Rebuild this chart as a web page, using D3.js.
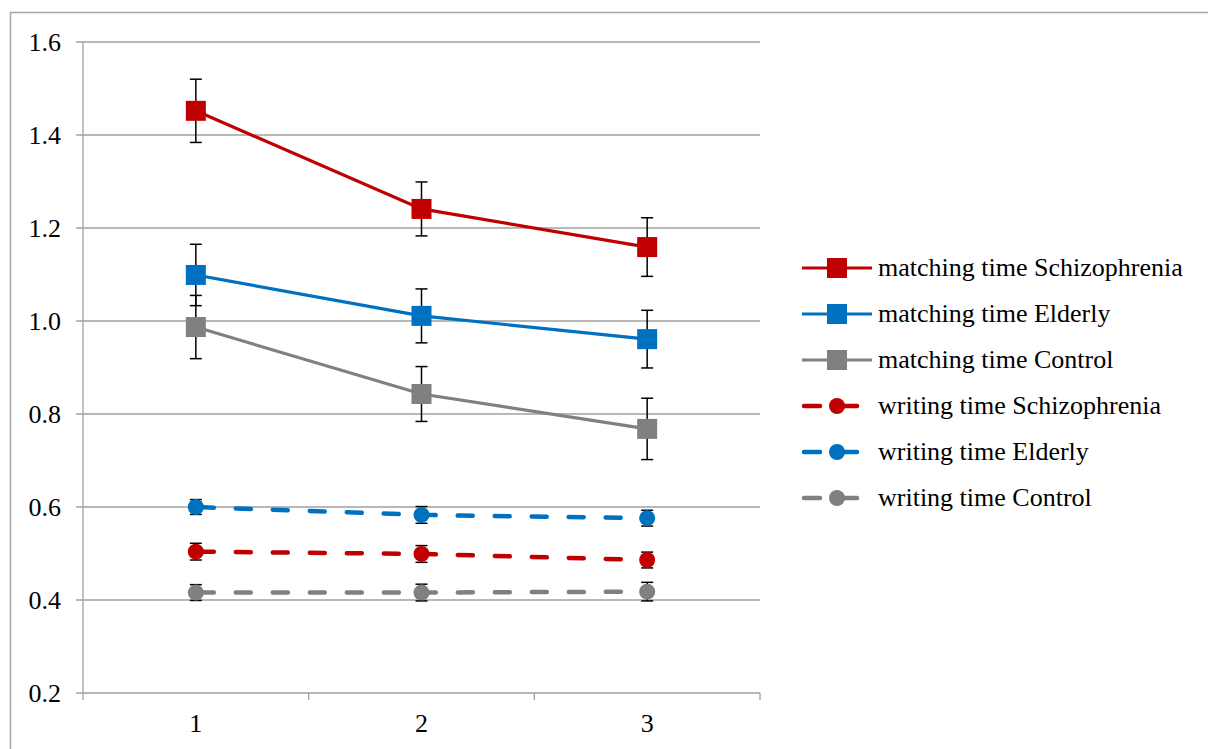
<!DOCTYPE html>
<html>
<head>
<meta charset="utf-8">
<script src="https://cdn.jsdelivr.net/npm/d3@7"></script>
<style>
  html, body { margin: 0; padding: 0; background: #fff; }
  svg { display: block; }
  svg text { font-family: "Liberation Serif", "DejaVu Serif", serif; fill: #000; }
</style>
</head>
<body>
<svg id="chart" width="1208" height="749"></svg>
<script>
// Sessions on the x axis
const sessions = [1, 2, 3];
const yTicks = [0.2, 0.4, 0.6, 0.8, 1.0, 1.2, 1.4, 1.6];

// Mean times per session and their error bars
const matchingSchizophrenia = [1.452, 1.241, 1.159];
const matchingSchizophreniaErr = [0.068, 0.058, 0.063];
const matchingElderly = [1.099, 1.011, 0.961];
const matchingElderlyErr = [0.066, 0.058, 0.062];
const matchingControl = [0.987, 0.843, 0.768];
const matchingControlErr = [0.068, 0.059, 0.066];
const writingSchizophrenia = [0.504, 0.499, 0.486];
const writingSchizophreniaErr = [0.018, 0.018, 0.017];
const writingElderly = [0.600, 0.583, 0.576];
const writingElderlyErr = [0.016, 0.018, 0.017];
const writingControl = [0.416, 0.416, 0.418];
const writingControlErr = [0.017, 0.018, 0.020];

const seriesNames = [
  "matching time Schizophrenia", "matching time Elderly", "matching time Control",
  "writing time Schizophrenia", "writing time Elderly", "writing time Control"
];

const RED = "#C00000", BLUE = "#0070C0", GRAY = "#808080";
const FONT = "'Liberation Serif', 'DejaVu Serif', serif";
const FONT_SIZE = 26;

const series = [
  { name: seriesNames[0], values: matchingSchizophrenia, err: matchingSchizophreniaErr, color: RED,  kind: "square" },
  { name: seriesNames[1], values: matchingElderly,       err: matchingElderlyErr,       color: BLUE, kind: "square" },
  { name: seriesNames[2], values: matchingControl,       err: matchingControlErr,       color: GRAY, kind: "square" },
  { name: seriesNames[3], values: writingSchizophrenia,  err: writingSchizophreniaErr,  color: RED,  kind: "circle" },
  { name: seriesNames[4], values: writingElderly,        err: writingElderlyErr,        color: BLUE, kind: "circle" },
  { name: seriesNames[5], values: writingControl,        err: writingControlErr,        color: GRAY, kind: "circle" }
];

const svg = d3.select("#chart");

// Outer chart frame (runs past the right and bottom edges)
svg.append("rect")
  .attr("x", 10.5).attr("y", 12.5)
  .attr("width", 1300).attr("height", 800)
  .attr("fill", "none").attr("stroke", "#a6a6a6").attr("stroke-width", 1.5);

const plot = { left: 83, right: 760, top: 42, bottom: 693 };

const x = d3.scaleBand().domain(sessions).range([plot.left, plot.right]);
const cx = d => x(d) + x.bandwidth() / 2;
const y = d3.scaleLinear().domain([0.2, 1.6]).range([plot.bottom, plot.top]);

// Horizontal gridlines with small outer ticks
const grid = svg.append("g");
grid.selectAll("line")
  .data(yTicks)
  .join("line")
  .attr("x1", plot.left - 7).attr("x2", plot.right)
  .attr("y1", d => y(d)).attr("y2", d => y(d))
  .attr("stroke", "#a0a0a0").attr("stroke-width", 1.3);

// Vertical axis line
svg.append("line")
  .attr("x1", plot.left).attr("x2", plot.left)
  .attr("y1", plot.top).attr("y2", plot.bottom)
  .attr("stroke", "#a0a0a0").attr("stroke-width", 1.3);

// Y tick labels
svg.append("g").selectAll("text")
  .data(yTicks)
  .join("text")
  .attr("x", 61).attr("y", d => y(d) + 9)
  .attr("text-anchor", "end")
  .attr("font-family", FONT)
  .attr("font-size", FONT_SIZE)
  .text(d => d3.format(".1f")(d));

// X axis: category labels, plus ticks at the category boundaries
const xAxis = d3.axisBottom(x).tickSize(0).tickFormat(d => d);
const xg = svg.append("g").attr("transform", `translate(0,${plot.bottom})`).call(xAxis);
xg.attr("font-family", FONT).attr("font-size", FONT_SIZE);
xg.select(".domain").remove();
xg.selectAll(".tick text")
  .attr("y", 39)
  .attr("dy", null)
  .attr("font-family", FONT)
  .attr("font-size", FONT_SIZE)
  .attr("fill", "#000");
const boundaries = sessions.map(d => x(d)).concat([plot.right]);
svg.append("g").selectAll("line")
  .data(boundaries)
  .join("line")
  .attr("x1", d => d).attr("x2", d => d)
  .attr("y1", plot.bottom).attr("y2", plot.bottom + 7)
  .attr("stroke", "#a0a0a0").attr("stroke-width", 1.3);

const line = d3.line().x((v, i) => cx(sessions[i])).y(v => y(v));

// Error bars (drawn beneath lines and markers)
const eb = svg.append("g").attr("stroke", "#000").attr("stroke-width", 1.5);
series.forEach(s => {
  s.values.forEach((v, i) => {
    const px = cx(sessions[i]);
    const top = y(v + s.err[i]), bot = y(v - s.err[i]);
    eb.append("line").attr("x1", px).attr("x2", px).attr("y1", top).attr("y2", bot);
    eb.append("line").attr("x1", px - 6).attr("x2", px + 6).attr("y1", top).attr("y2", top);
    eb.append("line").attr("x1", px - 6).attr("x2", px + 6).attr("y1", bot).attr("y2", bot);
  });
});

// Series lines
series.forEach(s => {
  const p = svg.append("path")
    .attr("d", line(s.values))
    .attr("fill", "none")
    .attr("stroke", s.color);
  if (s.kind === "square") {
    p.attr("stroke-width", 3.2);
  } else {
    p.attr("stroke-width", 4.5)
     .attr("stroke-linecap", "round")
     .attr("stroke-dasharray", "15,22")
     .attr("stroke-dashoffset", -3);
  }
});

// Markers
function drawMarker(g, kind, px, py, color) {
  if (kind === "square") {
    g.append("rect")
      .attr("x", px - 10).attr("y", py - 10)
      .attr("width", 20).attr("height", 20)
      .attr("fill", color);
  } else {
    g.append("circle")
      .attr("cx", px).attr("cy", py).attr("r", 8)
      .attr("fill", color);
  }
}
const markers = svg.append("g");
series.forEach(s => {
  s.values.forEach((v, i) => drawMarker(markers, s.kind, cx(sessions[i]), y(v), s.color));
});

// Legend
const legend = svg.append("g");
series.forEach((s, k) => {
  const ly = 268 + k * 46;
  const g = legend.append("g");
  if (s.kind === "square") {
    g.append("line")
      .attr("x1", 802).attr("x2", 872).attr("y1", ly).attr("y2", ly)
      .attr("stroke", s.color).attr("stroke-width", 3.2);
  } else {
    g.append("line")
      .attr("x1", 804).attr("x2", 820).attr("y1", ly).attr("y2", ly)
      .attr("stroke", s.color).attr("stroke-width", 4.5).attr("stroke-linecap", "round");
    g.append("line")
      .attr("x1", 837).attr("x2", 857).attr("y1", ly).attr("y2", ly)
      .attr("stroke", s.color).attr("stroke-width", 4.5).attr("stroke-linecap", "round");
  }
  drawMarker(g, s.kind, 837, ly, s.color);
  g.append("text")
    .attr("x", 878).attr("y", ly + 8)
    .attr("font-family", FONT)
    .attr("font-size", FONT_SIZE)
    .text(s.name);
});
</script>
</body>
</html>
